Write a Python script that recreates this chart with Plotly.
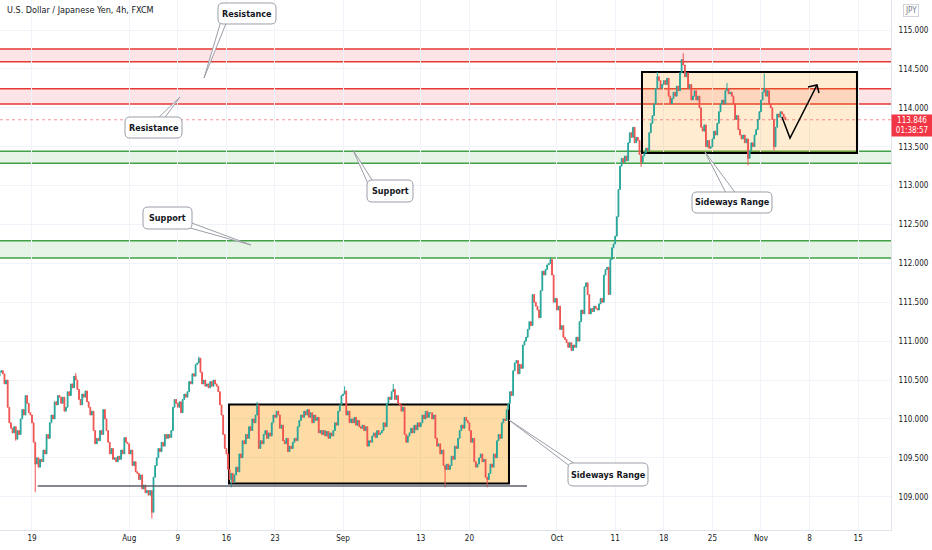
import pandas as pd
import plotly.graph_objects as go

# ---- data (USDJPY, 4h bars, FXCM) ----
first_bar = "2021-07-13 16:00"

# 4h closes, one trading day per line
closes = [
    110.60, 110.62,                                   # Jul 13 (16h, 20h)
    110.58, 110.45, 110.50, 110.15, 109.95, 109.88,   # Jul 14
    109.82, 109.90, 109.74, 109.85, 109.80, 110.00,   # Jul 15
    110.12, 110.05, 110.30, 110.20, 110.08, 110.05,   # Jul 16
    109.95, 109.70, 109.42, 109.50, 109.38, 109.48,   # Jul 19
    109.45, 109.60, 109.55, 109.80, 109.75, 109.95,   # Jul 20
    110.05, 110.00, 110.22, 110.18, 110.30, 110.28,   # Jul 21
    110.20, 110.28, 110.10, 110.15, 110.35, 110.30,   # Jul 22
    110.45, 110.40, 110.55, 110.50, 110.38, 110.25,   # Jul 23
    110.18, 110.32, 110.28, 110.36, 110.22, 110.15,   # Jul 26
    110.05, 110.10, 109.85, 109.68, 109.75, 109.72,   # Jul 27
    109.85, 109.80, 110.12, 110.00, 109.85, 109.70,   # Jul 28
    109.55, 109.62, 109.48, 109.50, 109.45, 109.52,   # Jul 29
    109.48, 109.60, 109.55, 109.76, 109.70, 109.68,   # Jul 30
    109.55, 109.60, 109.40, 109.45, 109.32, 109.30,   # Aug 2
    109.22, 109.28, 109.10, 109.15, 109.05, 109.08,   # Aug 3
    109.02, 109.08, 108.80, 109.25, 109.40, 109.50,   # Aug 4
    109.62, 109.58, 109.70, 109.65, 109.80, 109.75,   # Aug 5
    109.80, 109.76, 109.85, 110.15, 110.25, 110.20,   # Aug 6
    110.15, 110.22, 110.08, 110.25, 110.32, 110.28,   # Aug 9
    110.35, 110.48, 110.45, 110.58, 110.55, 110.70,   # Aug 10
    110.72, 110.78, 110.60, 110.45, 110.50, 110.42,   # Aug 11
    110.45, 110.40, 110.48, 110.42, 110.50, 110.45,   # Aug 12
    110.42, 110.35, 110.18, 110.05, 109.80, 109.62,   # Aug 13
    109.55, 109.35, 109.22, 109.30, 109.18, 109.28,   # Aug 16
    109.38, 109.32, 109.55, 109.50, 109.72, 109.68,   # Aug 17
    109.80, 109.75, 109.90, 109.85, 110.00, 109.95,   # Aug 18
    110.05, 110.18, 109.62, 109.72, 109.68, 109.80,   # Aug 19
    109.85, 109.75, 109.82, 109.78, 109.95, 110.05,   # Aug 20
    110.02, 110.10, 110.05, 109.88, 109.92, 109.72,   # Aug 23
    109.68, 109.75, 109.58, 109.65, 109.62, 109.70,   # Aug 24
    109.75, 109.72, 109.90, 109.98, 110.05, 110.02,   # Aug 25
    110.10, 110.05, 110.12, 110.02, 110.08, 109.95,   # Aug 26
    110.05, 109.98, 110.02, 109.82, 109.85, 109.80,   # Aug 27
    109.85, 109.78, 109.84, 109.75, 109.82, 109.78,   # Aug 30
    109.85, 109.95, 109.92, 110.10, 110.18, 110.30,   # Aug 31
    110.32, 110.36, 110.05, 110.10, 109.95, 110.00,   # Sep 1
    109.95, 110.02, 109.92, 109.98, 109.90, 109.88,   # Sep 2
    109.92, 109.85, 109.90, 109.65, 109.72, 109.70,   # Sep 3
    109.78, 109.82, 109.76, 109.85, 109.80, 109.82,   # Sep 6
    109.85, 109.95, 109.90, 110.20, 110.28, 110.25,   # Sep 7
    110.35, 110.38, 110.25, 110.30, 110.20, 110.18,   # Sep 8
    110.10, 110.15, 109.80, 109.70, 109.78, 109.82,   # Sep 9
    109.88, 109.82, 109.92, 109.86, 109.95, 109.90,   # Sep 10
    109.95, 110.05, 110.00, 110.10, 110.02, 110.08,   # Sep 13
    110.08, 110.00, 110.05, 109.75, 109.65, 109.68,   # Sep 14
    109.55, 109.60, 109.40, 109.35, 109.42, 109.35,   # Sep 15
    109.40, 109.52, 109.48, 109.65, 109.62, 109.75,   # Sep 16
    109.85, 109.92, 109.88, 110.02, 109.98, 109.95,   # Sep 17
    109.85, 109.70, 109.75, 109.45, 109.38, 109.42,   # Sep 20
    109.50, 109.55, 109.45, 109.48, 109.25, 109.22,   # Sep 21
    109.30, 109.42, 109.38, 109.55, 109.50, 109.72,   # Sep 22
    109.80, 109.75, 109.95, 110.00, 109.98, 110.12,   # Sep 23
    110.20, 110.35, 110.30, 110.62, 110.72, 110.75,   # Sep 24
    110.58, 110.70, 110.65, 110.95, 111.00, 111.05,   # Sep 27
    111.15, 111.25, 111.20, 111.60, 111.50, 111.45,   # Sep 28
    111.40, 111.30, 111.65, 111.90, 111.85, 111.92,   # Sep 29
    111.98, 112.00, 112.05, 111.85, 111.50, 111.55,   # Sep 30
    111.40, 111.45, 111.15, 111.20, 111.05, 111.02,   # Oct 1
    110.98, 110.92, 110.98, 110.88, 110.95, 110.92,   # Oct 4
    111.05, 111.00, 111.25, 111.40, 111.35, 111.70,   # Oct 5
    111.75, 111.60, 111.35, 111.42, 111.38, 111.45,   # Oct 6
    111.42, 111.40, 111.48, 111.55, 111.50, 111.85,   # Oct 7
    111.92, 111.95, 111.60, 112.05, 112.20, 112.25,   # Oct 8
    112.35, 112.60, 112.95, 113.25, 113.35, 113.30,   # Oct 11
    113.38, 113.32, 113.55, 113.68, 113.62, 113.75,   # Oct 12
    113.55, 113.62, 113.58, 113.40, 113.30, 113.38,   # Oct 13
    113.42, 113.48, 113.45, 113.68, 113.80, 113.90,   # Oct 14
    114.05, 114.25, 114.40, 114.35, 114.25, 114.30,   # Oct 15
    114.35, 114.30, 114.38, 114.15, 114.05, 114.12,   # Oct 18
    114.20, 114.15, 114.28, 114.22, 114.45, 114.62,   # Oct 19
    114.55, 114.40, 114.45, 114.25, 114.30, 114.10,   # Oct 20
    114.15, 114.22, 114.10, 114.15, 114.00, 113.75,   # Oct 21
    113.70, 113.78, 113.50, 113.58, 113.48, 113.50,   # Oct 22
    113.60, 113.70, 113.65, 113.80, 113.95, 114.05,   # Oct 25
    114.10, 114.05, 114.22, 114.25, 114.18, 114.20,   # Oct 26
    114.15, 114.05, 113.85, 113.90, 113.72, 113.65,   # Oct 27
    113.60, 113.65, 113.55, 113.60, 113.35, 113.45,   # Oct 28
    113.55, 113.50, 113.65, 113.72, 113.85, 113.95,   # Oct 29
    114.10, 114.20, 114.25, 114.15, 114.22, 114.05,   # Nov 1
    114.00, 113.85, 113.50, 113.75, 113.92, 113.88,   # Nov 2
    113.95, 113.92, 113.88, 113.846,                  # Nov 3
]
first_open = 110.55

# wick extremes that stand out on the chart
wick_highs = {
    "2021-07-23 12:00": 110.59, "2021-08-11 04:00": 110.80,
    "2021-08-19 04:00": 110.22, "2021-09-01 04:00": 110.42,
    "2021-09-08 04:00": 110.45, "2021-09-30 08:00": 112.08,
    "2021-10-15 08:00": 114.46, "2021-10-20 00:00": 114.70,
    "2021-10-26 12:00": 114.32, "2021-11-01 08:00": 114.44,
}
wick_lows = {
    "2021-07-15 08:00": 109.72, "2021-07-19 08:00": 109.06,
    "2021-08-04 08:00": 108.72, "2021-08-16 12:00": 109.12,
    "2021-09-15 12:00": 109.12, "2021-09-21 20:00": 109.12,
    "2021-10-13 16:00": 113.24, "2021-10-28 16:00": 113.26,
    "2021-11-02 08:00": 113.45,
}

tick_dates = ["2021-07-19", "2021-08-02", "2021-08-09", "2021-08-16", "2021-08-23",
              "2021-09-01", "2021-09-13", "2021-09-20", "2021-10-01", "2021-10-11",
              "2021-10-18", "2021-10-25", "2021-11-01", "2021-11-08", "2021-11-15"]
tick_text = ["19", "Aug", "9", "16", "23", "Sep", "13", "20", "Oct", "11",
             "18", "25", "Nov", "8", "15"]

resistance_zones = [(114.592, 114.756), (114.049, 114.245)]
support_zones = [(113.286, 113.440), (112.069, 112.291)]
last_price = 113.846

# ---- build OHLC ----
times = pd.date_range(first_bar, periods=len(closes) * 2, freq="4h")
times = times[times.dayofweek < 5][:len(closes)]
opens = [first_open] + closes[:-1]
highs = [max(o, c) for o, c in zip(opens, closes)]
lows = [min(o, c) for o, c in zip(opens, closes)]
for i, t in enumerate(times):
    key = t.strftime("%Y-%m-%d %H:%M")
    if key in wick_highs:
        highs[i] = wick_highs[key]
    if key in wick_lows:
        lows[i] = wick_lows[key]

FONT = "DejaVu Sans Condensed, DejaVu Sans, sans-serif"
TXT = "#131722"
PW, PH = 891.0, 530.0   # plot area in px


def X(px):
    return px / PW


def Y(py):
    return 1 - py / PH


fig = go.Figure()
fig.add_trace(go.Candlestick(
    x=times, open=opens, high=highs, low=lows, close=closes,
    increasing=dict(line=dict(color="#26a69a", width=1), fillcolor="#26a69a"),
    decreasing=dict(line=dict(color="#ef5350", width=1), fillcolor="#ef5350"),
    whiskerwidth=0, showlegend=False, hoverinfo="skip",
))

shapes = []
for lo, hi in resistance_zones:
    shapes.append(dict(type="rect", xref="paper", x0=0, x1=1, y0=lo, y1=hi,
                       fillcolor="rgba(242,54,69,0.13)", line_width=0, layer="between"))
    for v in (lo, hi):
        shapes.append(dict(type="line", xref="paper", x0=0, x1=1, y0=v, y1=v,
                           line=dict(color="#e53935", width=1.5), layer="between"))
for lo, hi in support_zones:
    shapes.append(dict(type="rect", xref="paper", x0=0, x1=1, y0=lo, y1=hi,
                       fillcolor="rgba(76,175,80,0.14)", line_width=0, layer="between"))
    for v in (lo, hi):
        shapes.append(dict(type="line", xref="paper", x0=0, x1=1, y0=v, y1=v,
                           line=dict(color="#43a047", width=1.5), layer="between"))

# sideways range boxes
shapes.append(dict(type="rect", x0="2021-08-16 06:25", x1="2021-09-24 01:45",
                   y0=109.17, y1=110.185, fillcolor="rgba(255,152,0,0.35)",
                   line=dict(color="#000000", width=2), layer="between"))
shapes.append(dict(type="rect", x0="2021-10-13 18:10", x1="2021-11-12 21:00",
                   y0=113.42, y1=114.46, fillcolor="rgba(255,152,0,0.18)",
                   line=dict(color="#000000", width=2), layer="between"))
# base line under the lower range
shapes.append(dict(type="line", x0="2021-07-19 14:00", x1="2021-09-27 22:20",
                   y0=109.137, y1=109.137, line=dict(color="#5d606b", width=1.5)))
# last price line
shapes.append(dict(type="line", xref="paper", x0=0, x1=1, y0=last_price, y1=last_price,
                   line=dict(color="rgba(242,54,69,0.55)", width=1, dash="dot")))
# projected path arrow
shapes.append(dict(type="path", line=dict(color="#000000", width=1.5),
                   path="M 2021-11-03_03:50,113.881 L 2021-11-03_23:36,113.611 "
                        "L 2021-11-08_18:16,114.293"))
shapes.append(dict(type="path", line=dict(color="#000000", width=1.5),
                   path="M 2021-11-05_20:03,114.267 L 2021-11-08_18:16,114.293 "
                        "L 2021-11-08_23:13,114.19"))


def rrect(x0, y0, x1, y1, r=5):
    p = [(x0 + r, y0), (x1 - r, y0), (x1, y0), (x1, y0 + r), (x1, y1 - r), (x1, y1),
         (x1 - r, y1), (x0 + r, y1), (x0, y1), (x0, y1 - r), (x0, y0 + r), (x0, y0), (x0 + r, y0)]
    f = lambda q: f"{X(q[0]):.5f},{Y(q[1]):.5f}"
    return (f"M {f(p[0])} L {f(p[1])} Q {f(p[2])} {f(p[3])} L {f(p[4])} "
            f"Q {f(p[5])} {f(p[6])} L {f(p[7])} Q {f(p[8])} {f(p[9])} "
            f"L {f(p[10])} Q {f(p[11])} {f(p[12])} Z")


callouts = [
    ("Resistance", (218, 3, 276, 24), (221, 21), (227, 21), (204, 78)),
    ("Resistance", (125, 117, 182, 138), (156, 120), (163, 120), (180, 97)),
    ("Support", (367, 180, 413, 202), (369, 186), (374, 183), (353, 150)),
    ("Support", (143, 207, 192, 229), (183, 226), (189, 222), (251, 245)),
    ("Sideways Range", (692, 192, 772, 213), (727, 195), (737, 195), (705, 152)),
    ("Sideways Range", (568, 463, 648, 486), (571, 467), (578, 466), (509, 420)),
]
annotations = []
for text, (x0, y0, x1, y1), b1, b2, tip in callouts:
    wedge = f"M {X(b1[0]):.5f},{Y(b1[1]):.5f} L {X(tip[0]):.5f},{Y(tip[1]):.5f} L {X(b2[0]):.5f},{Y(b2[1]):.5f} Z"
    shapes.append(dict(type="path", xref="paper", yref="paper", path=wedge,
                       fillcolor="white", line=dict(color="#9b9ea8", width=1)))
    shapes.append(dict(type="path", xref="paper", yref="paper", path=rrect(x0, y0, x1, y1),
                       fillcolor="white", line=dict(color="#9b9ea8", width=1)))
    annotations.append(dict(xref="paper", yref="paper", x=X((x0 + x1) / 2), y=Y((y0 + y1) / 2),
                            xanchor="center", yanchor="middle",
                            text=f"<b>{text}</b>", showarrow=False,
                            font=dict(family=FONT, size=9, color=TXT)))

annotations.append(dict(xref="paper", yref="paper", x=X(5), y=Y(10),
                        xanchor="left", yanchor="middle",
                        text="U.S. Dollar / Japanese Yen, 4h, FXCM", showarrow=False,
                        font=dict(family=FONT, size=9, color=TXT)))
annotations.append(dict(xref="paper", yref="paper", x=X(911), y=Y(11),
                        xanchor="center", yanchor="middle",
                        text="JPY", showarrow=False, bordercolor="#d1d4dc", borderwidth=1,
                        borderpad=1, font=dict(family=FONT, size=8, color="#787b86")))
annotations.append(dict(xref="paper", yref="paper", x=X(912), y=Y(125),
                        xanchor="center", yanchor="middle",
                        text=f"{last_price:.3f}<br>01:38:57", showarrow=False,
                        bgcolor="#f23645", borderpad=1, width=38,
                        font=dict(family=FONT, size=8, color="white")))

fig.update_layout(
    width=932, height=550,
    margin=dict(l=0, r=41, t=0, b=20),
    paper_bgcolor="white", plot_bgcolor="white",
    font=dict(family=FONT, size=8, color=TXT),
    shapes=shapes, annotations=annotations,
    showlegend=False,
    xaxis=dict(
        range=["2021-07-13 17:00", "2021-11-18 09:00"],
        rangebreaks=[dict(bounds=["sat", "mon"])],
        rangeslider=dict(visible=False),
        tickvals=tick_dates, ticktext=tick_text,
        showgrid=True, gridcolor="#f0f3fa", zeroline=False,
        showline=True, linecolor="#e0e3eb", ticks="",
        tickfont=dict(family=FONT, size=8, color=TXT),
    ),
    yaxis=dict(
        side="right", range=[108.572, 115.386],
        dtick=0.5, tick0=0, tickformat=".3f",
        showgrid=True, gridcolor="#f0f3fa", zeroline=False,
        showline=True, linecolor="#e0e3eb", ticks="",
        ticklabelstandoff=5,
        tickfont=dict(family=FONT, size=8, color=TXT),
    ),
)

fig.write_html("out.html", config={"displayModeBar": False},
               post_script="document.body.style.margin='0';")
